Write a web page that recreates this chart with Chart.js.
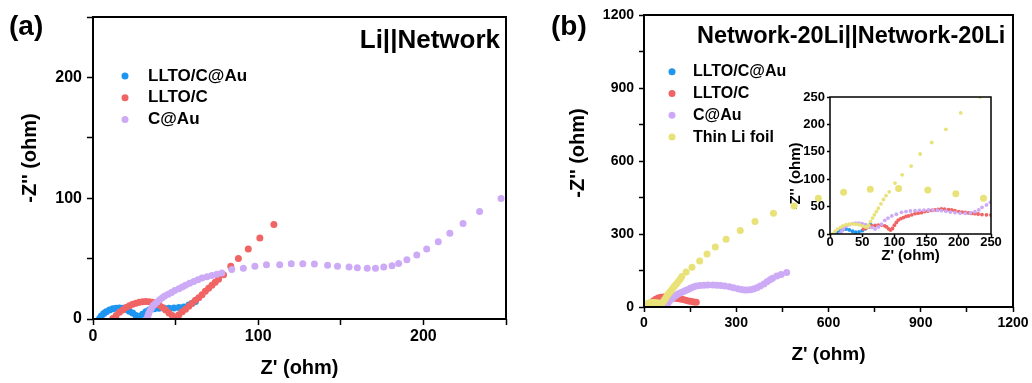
<!DOCTYPE html>
<html>
<head>
<meta charset="utf-8">
<script src="https://cdn.jsdelivr.net/npm/chart.js@4.4.0/dist/chart.umd.min.js"></script>
<style>
  html, body { margin: 0; padding: 0; background: #fff; }
  #wrap { position: relative; width: 1032px; height: 383px; overflow: hidden; }
  canvas { position: absolute; }
  #ca { left: 0; top: 0; }
  #cin { left: 770px; top: 80px; }
  #cb { left: 516px; top: 0; }
</style>
</head>
<body>
<div id="wrap">
  <canvas id="ca" width="516" height="383"></canvas>
  <canvas id="cin" width="240" height="190"></canvas>
  <canvas id="cb" width="516" height="383"></canvas>
</div>
<script>
// series names
const names = ['LLTO/C@Au', 'LLTO/C', 'C@Au', 'Thin Li foil'];

// panel (a): Li||Network, [Z', -Z'']
const aLltoCAu = [[4,0.5],[5,2.5],[6.5,4.5],[8,6],[10,7.5],[12,8.5],[14,9],[16,9.2],[18,9],[20,8],[22,6.5],[24,5],[26,3],[28,2],
  [30,4],[32,6],[34,7.5],[37,8.5],[40,8.8],[43,9],[46,9],[49,9.2],[52,9.5],[55,10],[58,11.5],[60,13],[62,14.5]];
const aLltoC = [[12,0.5],[14,3],[16,5.5],[18,7.5],[20,9.5],[22,11],[24,12.2],[26,13],[28,13.8],[30,14.2],[32,14.4],[34,14.2],
  [36,13.8],[38,13],[40,11.5],[42,9.5],[44,7.5],[46,5],[48,3],[50,1.5],[52,3.5],[54,6],[56,8],[58,10.5],[60,13],[62,15.5],
  [64,17.5],[66,20],[68,23],[70,25.5],[72,28],[74,30.5],[76,33],[79,36.7],[83.4,43.6],[88,50],[94,58],[101,67],[109.5,78.3]];
const aCAu = [[32.7,0.5],[33.2,2.5],[33.7,4.5],[34.5,7],[35.4,9],[36.3,11],[37.4,12.5],[38.8,14],[40.4,16],[42,17.5],[43.4,19],
  [45.5,20.5],[47.5,22],[49.5,23.5],[52,25],[54,26.5],[56,28],[58.5,29.5],[61,31],[63.5,32.5],[66,34],[69,35],[72,36],[75,37],
  [78,38],[84,41],[91,42],[98,43.6],[105,45],[113,45],[120,45.8],[127,45.8],[134,45.5],[142,44.4],[148,43.6],[155,43],[160,42.5],
  [166,42],[171,42],[176,43],[181,44],[185,46],[190,49],[196,53],[202,58],[209,64],[216,71],[224,79],[234,89],[247,99.7]];

// panel (b): Network-20Li||Network-20Li
const bLltoCAu = [[8,2],[12,6],[17,9],[23,10],[29,9],[35,6],[40,4],[45,5],[50,8],[55,11],[60,14]];
const bLltoC = [[18,8],[24,17],[30,25],[38,32],[46,37],[55,40],[64,41],[73,41],[82,40],[91,38],[100,36],[109,35],[118,33],
  [127,31],[136,28],[145,25],[154,23],[162,21],[170,20]];
const bCAu = [[72,1],[75,10],[79,19],[84,27],[89,33],[94,38],[100,44],[106,49],[112,54],[119,59],[127,63],[135,68],[143,72],
  [151,77],[160,82],[170,86],[182,88],[195,89],[208,90],[224,90],[237,89],[250,88],[263,86],[278,83],[291,79],[305,75],[316,72],
  [326,70],[336,70],[346,71],[356,74],[367,79],[378,86],[390,95],[400,104],[410,112],[418,118],[432,127],[446,134],[464,142]];
const bLiFoil = [[2,3],[5,8],[9,12],[14,15],[20,17],[27,18],[34,18],[41,17],[48,16],[54,15],[60,17],[64,24],[68,32],[72,40],
  [76,48],[80,55],[85,63],[90,71],[95,79],[100,87],[106,96],[112,106],[118,115],[123,125],[137,144],[156,163],[181,189],
  [205,218],[232,247],[267,278],[313,314],[361,351],[421,385],[488,415],[567,447],[649,472],[736,484],[828,487],[923,481],
  [1014,465],[1104,447]];

// inset of (b), low-impedance zoom
const iLltoCAu = [[10,0],[13,3],[16,6],[20,8],[25,9],[30,7.5],[35,5],[40,3.5],[45,4],[50,6],[55,9.5],[60,14],[63,18]];
const iLltoC = [[52,9],[56,11],[60,13],[65,14.6],[70,15.5],[75,16],[80,16.4],[85,15],[88,13],[91,9.5],[94,7.3],[97,10],
  [100,16],[103,21],[106,25.5],[110,28],[114,30],[118,32],[122,33],[127,35],[132,37],[137,38],[142,39],[147,41],[152,42],
  [158,43],[163,44],[168,45],[173,45.6],[178,45.2],[184,44.5],[189,43.8],[194,42.5],[200,41],[205,40],[210,39.6],[215,38.5],
  [220,37.5],[225,37],[230,36.5],[236,35.5],[243,35],[250,34.7]];
const iCAu = [[15,0],[18,5],[21,10],[25,14],[30,17],[35,19],[40,20],[45,20],[50,19],[55,17],[60,14],[65,12],[70,9],[75,13],
  [80,18],[85,25],[90,29],[96,33],[103,36],[111,39.6],[118,41],[125,42],[132,42.6],[139,43],[146,43.5],[153,43.8],[160,43.5],
  [167,43],[173,42.6],[180,41.5],[187,40],[194,38.9],[202,38],[210,37.8],[218,38.5],[225,40.7],[231,44],[236,48.7],[243,53],
  [249,57.8]];
const iLiFoil = [[4,0],[8,5],[12,9],[16,12],[20,15],[25,17],[30,18],[35,18.5],[40,18],[45,17],[50,15],[55,13],[58,13],
  [60,16],[63,22.6],[66,29],[69,35],[72,41],[75,47],[79,55],[83,63],[87,70],[92,77],[101,93],[112,108],[126,124],[140,146],
  [158,167],[180,191],[203,221],[233,250]];

const colors = ['rgb(30,150,240)', 'rgb(240,100,100)', 'rgb(205,170,245)', 'rgb(232,226,120)'];
const FONT = "'Liberation Sans', Arial, sans-serif";

const decor = {
  id: 'decor',
  afterDraw(chart, args, o) {
    const ctx = chart.ctx, a = chart.chartArea;
    ctx.save();
    ctx.strokeStyle = '#000';
    ctx.lineWidth = o.frame;
    ctx.strokeRect(a.left, a.top, a.right - a.left, a.bottom - a.top);
    ctx.textBaseline = 'middle';
    (o.texts || []).forEach(t => {
      ctx.save();
      ctx.fillStyle = '#000';
      ctx.font = t.font;
      ctx.textAlign = t.align || 'left';
      ctx.translate(t.x, t.y);
      if (t.rot) ctx.rotate(t.rot);
      ctx.fillText(t.text, 0, 0);
      ctx.restore();
    });
    if (o.legend) {
      const L = o.legend;
      chart.data.datasets.forEach((ds, i) => {
        const y = L.y + i * L.gap;
        ctx.beginPath();
        ctx.arc(L.x, y, L.r, 0, Math.PI * 2);
        ctx.fillStyle = ds.backgroundColor;
        ctx.fill();
        ctx.fillStyle = '#000';
        ctx.font = L.font;
        ctx.textAlign = 'left';
        ctx.fillText(ds.label, L.textX, y);
      });
    }
    ctx.restore();
  }
};

function axis(o) {
  return {
    type: 'linear', min: o.min, max: o.max,
    border: { display: false },
    grid: { drawOnChartArea: false, drawTicks: true, tickLength: o.tl, tickWidth: 1.5, tickColor: '#000' },
    ticks: {
      stepSize: o.step, autoSkip: false, maxRotation: 0, padding: o.pad, color: '#000',
      font: { family: FONT, weight: 'bold', size: o.fs },
      callback: v => (v % o.lab === 0 ? v : '')
    },
    title: {
      display: !!o.title, text: o.title || '', color: '#000',
      font: { family: FONT, weight: 'bold', size: o.tfs || 12 },
      padding: o.tpad || 0
    },
    afterFit: s => { if (s.isHorizontal()) s.height = o.size; else s.width = o.size; }
  };
}

function sets(list, r, n) {
  return list.map((d, i) => ({
    label: names[i],
    data: d.map(p => ({ x: p[0], y: p[1] })),
    backgroundColor: colors[i],
    borderWidth: 0,
    pointRadius: r,
    pointHoverRadius: r,
    order: n - i
  }));
}

const UP = -Math.PI / 2;

// panel (a)
new Chart(document.getElementById('ca'), {
  type: 'scatter',
  data: { datasets: sets([aLltoCAu, aLltoC, aCAu], 3.5, 3) },
  plugins: [decor],
  options: {
    responsive: false, animation: false,
    layout: { padding: { left: 0, top: 17, right: 10, bottom: 0 } },
    scales: {
      x: axis({ min: 0, max: 250, step: 50, lab: 100, tl: 6, pad: 2, fs: 16, title: "Z' (ohm)", tfs: 20, tpad: { top: 0, bottom: 3 }, size: 64 }),
      y: axis({ min: 0, max: 250, step: 50, lab: 100, tl: 6, pad: 5, fs: 16, size: 93 })
    },
    plugins: {
      legend: { display: false }, tooltip: { enabled: false },
      decor: {
        frame: 2,
        texts: [
          { text: '(a)', x: 9, y: 27, font: 'bold 28px ' + FONT },
          { text: 'Li||Network', x: 500, y: 41, align: 'right', font: 'bold 26px ' + FONT },
          { text: "-Z'' (ohm)", x: 30, y: 158, align: 'center', rot: UP, font: 'bold 20px ' + FONT }
        ],
        legend: { x: 125, y: 76, gap: 21.7, r: 3.5, textX: 148, font: 'bold 17px ' + FONT }
      }
    }
  }
});

// inset of (b)
new Chart(document.getElementById('cin'), {
  type: 'scatter',
  data: { datasets: sets([iLltoCAu, iLltoC, iCAu, iLiFoil], 1.9, 4) },
  plugins: [decor],
  options: {
    responsive: false, animation: false,
    layout: { padding: { left: 0, top: 17, right: 19, bottom: 0 } },
    scales: {
      x: axis({ min: 0, max: 250, step: 50, lab: 50, tl: 3, pad: -2, fs: 13, title: "Z' (ohm)", tfs: 15, tpad: { top: 0, bottom: 5 }, size: 36 }),
      y: axis({ min: 0, max: 250, step: 50, lab: 50, tl: 3, pad: 2, fs: 13, size: 60 })
    },
    plugins: {
      legend: { display: false }, tooltip: { enabled: false },
      decor: {
        frame: 1.5,
        texts: [
          { text: "-Z'' (ohm)", x: 26, y: 96, align: 'center', rot: UP, font: 'bold 15px ' + FONT }
        ]
      }
    }
  }
});

// panel (b)
new Chart(document.getElementById('cb'), {
  type: 'scatter',
  data: { datasets: sets([bLltoCAu, bLltoC, bCAu, bLiFoil], 3.5, 4) },
  plugins: [decor],
  options: {
    responsive: false, animation: false,
    layout: { padding: { left: 0, top: 15, right: 19, bottom: 0 } },
    scales: {
      x: axis({ min: 0, max: 1200, step: 150, lab: 300, tl: 5, pad: 3, fs: 14, title: "Z' (ohm)", tfs: 19, tpad: { top: 0, bottom: 16.6 }, size: 76 }),
      y: axis({ min: 0, max: 1200, step: 150, lab: 300, tl: 5, pad: 5, fs: 14, size: 128 })
    },
    plugins: {
      legend: { display: false }, tooltip: { enabled: false },
      decor: {
        frame: 2,
        texts: [
          { text: '(b)', x: 35, y: 27, font: 'bold 28px ' + FONT },
          { text: 'Network-20Li||Network-20Li', x: 181, y: 37, font: 'bold 23.5px ' + FONT },
          { text: "-Z'' (ohm)", x: 62.5, y: 153, align: 'center', rot: UP, font: 'bold 20px ' + FONT }
        ],
        legend: { x: 156, y: 71.7, gap: 21.8, r: 3.5, textX: 177, font: 'bold 16px ' + FONT }
      }
    }
  }
});
</script>
</body>
</html>
